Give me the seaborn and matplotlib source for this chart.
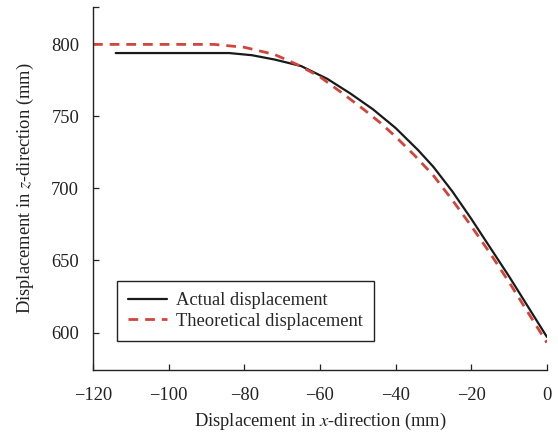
import matplotlib
matplotlib.use("Agg")
import matplotlib.pyplot as plt
import seaborn as sns
import pandas as pd

# Actual displacement (mm)
x_actual = [-114, -100, -90, -84, -78, -72, -65, -58, -52, -46, -40, -34, -30, -25, -20, -15, -10, -5, 0]
z_actual = [794, 794, 794, 794, 792.5, 789.5, 785, 776, 766, 755, 742, 726.5, 715, 698, 679, 659, 639, 618, 597]

# Theoretical displacement (mm)
x_theory = [-120, -100, -88, -80, -72, -66, -60, -54, -48, -44, -40, -35, -30, -25, -20, -15, -10, -5, 0]
z_theory = [800, 800, 800, 798, 793, 786, 777.5, 766, 754, 745.5, 736, 723, 709, 692, 674, 655, 635, 614, 593]

x_ticks = [-120, -100, -80, -60, -40, -20, 0]
y_ticks = [600, 650, 700, 750, 800]

sns.set_theme(style="ticks")
plt.rcParams["font.family"] = ["Liberation Serif", "DejaVu Serif"]
plt.rcParams["mathtext.fontset"] = "stix"
plt.rcParams["xtick.direction"] = "in"
plt.rcParams["ytick.direction"] = "in"

fig = plt.figure(figsize=(5.58, 4.34), dpi=100)
ax = fig.add_axes([0.1667, 0.1475, 0.8133, 0.8365])

df_a = pd.DataFrame({"x": x_actual, "z": z_actual})
df_t = pd.DataFrame({"x": x_theory, "z": z_theory})

sns.lineplot(data=df_a, x="x", y="z", ax=ax, color="#1a1a1a", linewidth=1.6,
             label="Actual displacement", sort=False)
sns.lineplot(data=df_t, x="x", y="z", ax=ax, color="#d0453c", linewidth=2.0,
             linestyle=(0, (3.5, 2.5)), label="Theoretical displacement", sort=False)

ax.set_xlim(-120, 0)
ax.set_ylim(574, 826)
ax.set_xticks(x_ticks)
ax.set_xticklabels([f"\u2212{abs(v)}" if v < 0 else str(v) for v in x_ticks])
ax.set_yticks(y_ticks)
ax.set_yticks([826], minor=True)
ax.tick_params(axis="both", labelsize=13.3, length=4, width=0.9, colors="#222222",
               labelcolor="#222222")
ax.tick_params(axis="x", pad=12)
ax.tick_params(axis="y", pad=10)
ax.tick_params(axis="y", which="minor", length=4, width=0.9)

ax.set_xlabel("Displacement in $\\it{x}$-direction (mm)", fontsize=13.3, color="#222222", labelpad=5)
ax.set_ylabel("Displacement in $\\it{z}$-direction (mm)", fontsize=13.3, color="#222222", labelpad=11)

for s in ["top", "right"]:
    ax.spines[s].set_visible(False)
for s in ["left", "bottom"]:
    ax.spines[s].set_linewidth(1.0)
    ax.spines[s].set_color("#222222")

leg = ax.legend(loc="lower left", bbox_to_anchor=(0.053, 0.08), borderaxespad=0,
                fontsize=13.3, frameon=True, fancybox=False, edgecolor="#222222",
                framealpha=1, borderpad=0.6, handlelength=2.1, labelspacing=0.2,
                handletextpad=0.5)
leg.get_frame().set_linewidth(1.0)

fig.savefig("out.png", dpi=100)
